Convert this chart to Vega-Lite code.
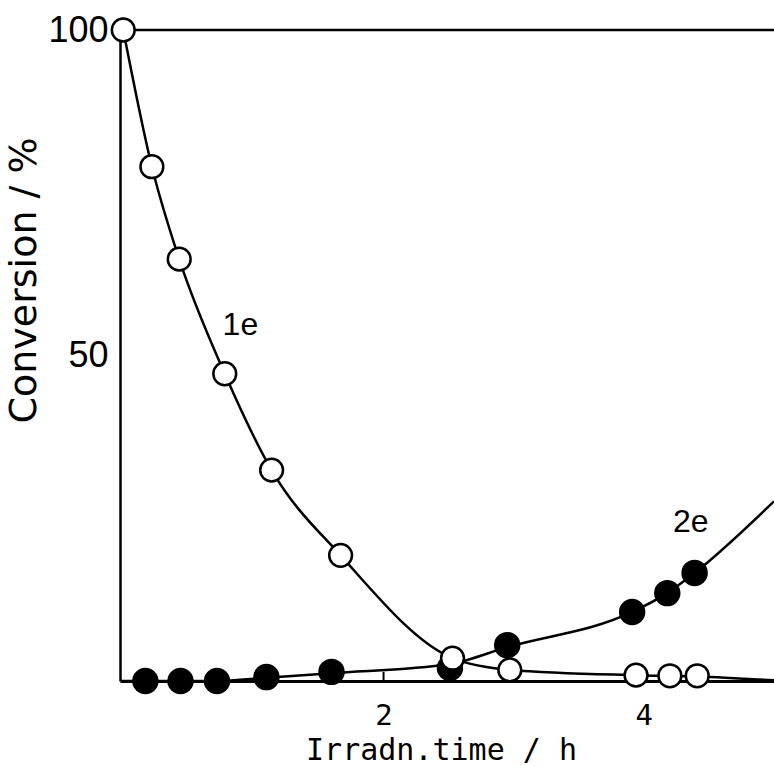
{
  "$schema": "https://vega.github.io/schema/vega-lite/v6.json",
  "width": 654,
  "height": 651,
  "autosize": {"type": "none"},
  "padding": {"left": 120, "top": 30, "right": 0, "bottom": 85},
  "background": "white",
  "config": {
    "view": {"stroke": null},
    "axis": {"grid": false, "domainColor": "black", "domainWidth": 2.5, "tickColor": "black", "labelColor": "black", "titleColor": "black", "titleFontWeight": "normal"}
  },
  "datasets": {
    "points": [
      {"t": 0.0, "conv": 100.0, "series": "1e"},
      {"t": 0.22, "conv": 79.0, "series": "1e"},
      {"t": 0.43, "conv": 64.8, "series": "1e"},
      {"t": 0.78, "conv": 47.2, "series": "1e"},
      {"t": 1.14, "conv": 32.4, "series": "1e"},
      {"t": 1.67, "conv": 19.3, "series": "1e"},
      {"t": 2.53, "conv": 3.5, "series": "1e"},
      {"t": 2.97, "conv": 1.7, "series": "1e"},
      {"t": 3.94, "conv": 0.9, "series": "1e"},
      {"t": 4.2, "conv": 0.8, "series": "1e"},
      {"t": 4.41, "conv": 0.8, "series": "1e"},
      {"t": 0.17, "conv": 0.0, "series": "2e"},
      {"t": 0.44, "conv": 0.0, "series": "2e"},
      {"t": 0.72, "conv": 0.0, "series": "2e"},
      {"t": 1.1, "conv": 0.6, "series": "2e"},
      {"t": 1.6, "conv": 1.4, "series": "2e"},
      {"t": 2.51, "conv": 2.0, "series": "2e"},
      {"t": 2.95, "conv": 5.5, "series": "2e"},
      {"t": 3.91, "conv": 10.6, "series": "2e"},
      {"t": 4.18, "conv": 13.5, "series": "2e"},
      {"t": 4.39, "conv": 16.6, "series": "2e"}
    ],
    "curves": [
      {"t": 0.0, "conv": 100.0, "series": "1e"},
      {"t": 0.22, "conv": 79.0, "series": "1e"},
      {"t": 0.43, "conv": 64.8, "series": "1e"},
      {"t": 0.78, "conv": 47.2, "series": "1e"},
      {"t": 1.14, "conv": 32.4, "series": "1e"},
      {"t": 1.67, "conv": 19.3, "series": "1e"},
      {"t": 2.53, "conv": 3.5, "series": "1e"},
      {"t": 2.97, "conv": 1.7, "series": "1e"},
      {"t": 3.94, "conv": 0.9, "series": "1e"},
      {"t": 4.41, "conv": 0.7, "series": "1e"},
      {"t": 5.0, "conv": 0.1, "series": "1e"},
      {"t": -0.02, "conv": 0.0, "series": "2e"},
      {"t": 0.72, "conv": 0.0, "series": "2e"},
      {"t": 1.1, "conv": 0.5, "series": "2e"},
      {"t": 1.6, "conv": 1.2, "series": "2e"},
      {"t": 2.51, "conv": 2.6, "series": "2e"},
      {"t": 2.95, "conv": 5.2, "series": "2e"},
      {"t": 3.91, "conv": 10.6, "series": "2e"},
      {"t": 4.18, "conv": 13.5, "series": "2e"},
      {"t": 4.39, "conv": 16.6, "series": "2e"},
      {"t": 5.0, "conv": 27.6, "series": "2e"}
    ],
    "labels": [
      {"t": 0.9, "conv": 54.7, "label": "1e"},
      {"t": 4.36, "conv": 24.4, "label": "2e"}
    ],
    "ticks": [
      {"t": 2},
      {"t": 4}
    ]
  },
  "layer": [
    {
      "data": {"name": "curves"},
      "mark": {"type": "line", "interpolate": "monotone", "color": "black", "strokeWidth": 2.5, "clip": true},
      "encoding": {
        "x": {"field": "t", "type": "quantitative", "scale": {"domain": [-0.025, 5.0], "nice": false, "zero": false}, "axis": {"values": [2, 4], "format": "d", "title": "Irradn.time / h", "ticks": false, "labelPadding": 20, "labelAngle": 0, "labelFont": "DejaVu Sans Mono", "labelFontSize": 29, "titleFont": "DejaVu Sans Mono", "titleFontSize": 30, "titleX": 321, "titleY": 78, "titleBaseline": "alphabetic", "domainWidth": 3}},
        "y": {"field": "conv", "type": "quantitative", "scale": {"domain": [0, 100], "nice": false}, "axis": {"values": [50, 100], "title": "Conversion / %", "ticks": false, "labelPadding": 12, "labelFont": "Liberation Sans", "labelFontSize": 36, "titleFont": "DejaVu Sans", "titleFontSize": 38, "titlePadding": 4, "titleY": 250, "labelFlush": false}},
        "detail": {"field": "series"}
      }
    },
    {
      "data": {"values": [{"v": 100}]},
      "mark": {"type": "rule", "color": "black", "strokeWidth": 2.5},
      "encoding": {"y": {"field": "v", "type": "quantitative"}}
    },
    {
      "data": {"name": "ticks"},
      "mark": {"type": "rule", "color": "black", "strokeWidth": 2},
      "encoding": {
        "x": {"field": "t", "type": "quantitative"},
        "y": {"datum": 0, "type": "quantitative"},
        "y2": {"datum": 1.4}
      }
    },
    {
      "data": {"name": "points"},
      "transform": [{"filter": "datum.series === '2e'"}],
      "mark": {"type": "point", "shape": "circle", "filled": true, "color": "black", "opacity": 1, "size": 700},
      "encoding": {
        "x": {"field": "t", "type": "quantitative"},
        "y": {"field": "conv", "type": "quantitative"}
      }
    },
    {
      "data": {"name": "points"},
      "transform": [{"filter": "datum.series === '1e'"}],
      "mark": {"type": "point", "shape": "circle", "filled": false, "fill": "white", "fillOpacity": 1, "stroke": "black", "strokeWidth": 2.5, "opacity": 1, "size": 520},
      "encoding": {
        "x": {"field": "t", "type": "quantitative"},
        "y": {"field": "conv", "type": "quantitative"}
      }
    },
    {
      "data": {"name": "labels"},
      "mark": {"type": "text", "font": "Liberation Sans", "fontSize": 32, "color": "black", "align": "center", "baseline": "middle"},
      "encoding": {
        "x": {"field": "t", "type": "quantitative"},
        "y": {"field": "conv", "type": "quantitative"},
        "text": {"field": "label"}
      }
    }
  ]
}
